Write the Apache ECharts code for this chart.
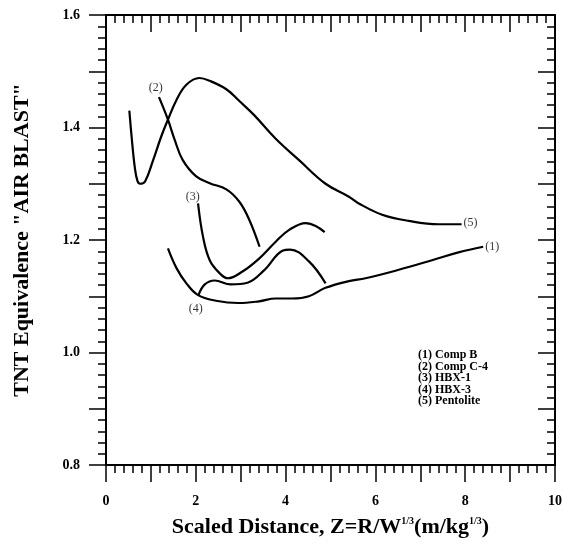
<!DOCTYPE html>
<html>
<head>
<meta charset="utf-8">
<script src="https://cdn.jsdelivr.net/npm/echarts@6/dist/echarts.min.js"></script>
<style>html,body{margin:0;padding:0;background:#fff;}#c{width:565px;height:544px;}</style>
</head>
<body>
<div id="c"></div>
<script>
var seriesNames = ['(1) Comp B', '(2) Comp C-4', '(3) HBX-1', '(4) HBX-3', '(5) Pentolite'];
var compB = [[1.38,1.185],[1.57,1.150],[1.79,1.123],[2.05,1.102],[2.45,1.092],[2.95,1.088],[3.41,1.091],[3.78,1.096],[4.15,1.096],[4.52,1.100],[4.89,1.115],[5.41,1.127],[5.78,1.132],[6.52,1.147],[7.26,1.164],[7.85,1.178],[8.40,1.188]];
var compC4 = [[1.18,1.454],[1.38,1.414],[1.53,1.378],[1.71,1.342],[2.01,1.313],[2.31,1.301],[2.68,1.290],[2.97,1.268],[3.19,1.236],[3.42,1.188]];
var hbx1 = [[2.05,1.265],[2.16,1.206],[2.31,1.164],[2.53,1.141],[2.71,1.132],[3.04,1.144],[3.41,1.167],[3.78,1.197],[4.08,1.218],[4.45,1.230],[4.67,1.225],[4.87,1.214]];
var hbx3 = [[2.06,1.102],[2.20,1.121],[2.42,1.128],[2.78,1.121],[3.15,1.124],[3.52,1.146],[3.93,1.181],[4.10,1.183],[4.52,1.162],[4.89,1.123]];
var pentolite = [[0.52,1.430],[0.57,1.384],[0.64,1.330],[0.70,1.305],[0.76,1.300],[0.87,1.304],[1.05,1.342],[1.23,1.384],[1.38,1.414],[1.57,1.449],[1.79,1.476],[2.08,1.488],[2.31,1.483],[2.68,1.468],[2.97,1.447],[3.30,1.422],[3.78,1.380],[4.30,1.342],[4.89,1.300],[5.41,1.277],[5.63,1.265],[6.15,1.245],[6.74,1.234],[7.41,1.228],[7.92,1.228]];
var curveLabels = ['(1)', '(2)', '(3)', '(4)', '(5)'];
var curveLabelPos = [[8.60,1.188],[1.11,1.470],[1.93,1.276],[2.00,1.077],[8.12,1.230]];
var xTickLabels = ['0','2','4','6','8','10'];
var yTickLabels = ['0.8','1.0','1.2','1.4','1.6'];

var SERIF = '"Liberation Serif", "DejaVu Serif", serif';
var chart = echarts.init(document.getElementById('c'));

function xFmt(v){ var s = String(Math.round(v)); return xTickLabels.indexOf(s) >= 0 && Math.abs(v-Math.round(v))<1e-6 ? s : ''; }
function yFmt(v){ var s = v.toFixed(1); return yTickLabels.indexOf(s) >= 0 ? s : ''; }

function axisCommon(extra){
  var base = {
    type: 'value',
    axisLine: {show: true, onZero: false, lineStyle: {color: '#000', width: 2}},
    splitLine: {show: false},
    minorSplitLine: {show: false}
  };
  for (var k in extra) base[k] = extra[k];
  return base;
}

var allData = [compB, compC4, hbx1, hbx3, pentolite];
var series = allData.map(function(d, i){
  return {
    name: seriesNames[i], type: 'line', data: d, smooth: 0.4, showSymbol: false, symbol: 'none',
    lineStyle: {color: '#000', width: 2.2}, silent: true, z: 3
  };
});
series.push({
  type: 'scatter', symbolSize: 0, silent: true,
  data: curveLabelPos.map(function(p, i){ return {value: p, name: curveLabels[i]}; }),
  label: {show: true, position: 'inside', formatter: function(p){ return p.name; },
    color: '#000', fontFamily: SERIF, fontSize: 12}
});

var option = {
  animation: false,
  backgroundColor: '#fff',
  grid: {left: 106, right: 8, top: 15, bottom: 79},
  xAxis: [
    axisCommon({
      position: 'bottom', min: 0, max: 10, interval: 1,
      axisTick: {show: true, inside: false, length: 17, lineStyle: {color: '#000', width: 1.5}},
      minorTick: {show: true, splitNumber: 5, length: 8, lineStyle: {color: '#000', width: 1.5}},
      axisLabel: {show: true, formatter: xFmt, margin: 29, color: '#000', fontFamily: SERIF, fontWeight: 'bold', fontSize: 14, showMinLabel: true, showMaxLabel: true},
      name: 'Scaled Distance, Z=R/W{sup|1/3}(m/kg{sup|1/3})',
      nameLocation: 'middle', nameGap: 51,
      nameTextStyle: {color: '#000', fontFamily: SERIF, fontWeight: 'bold', fontSize: 22,
        rich: {sup: {fontSize: 10, fontWeight: 'bold', fontFamily: SERIF, color: '#000', verticalAlign: 'top', padding: [0,0,9,0]}}}
    }),
    axisCommon({
      position: 'top', min: 0, max: 10, interval: 1,
      axisTick: {show: true, inside: true, length: 17, lineStyle: {color: '#000', width: 1.5}},
      minorTick: {show: true, splitNumber: 5, length: 8, lineStyle: {color: '#000', width: 1.5}},
      axisLabel: {show: false}
    })
  ],
  yAxis: [
    axisCommon({
      position: 'left', min: 0.8, max: 1.6, interval: 0.1,
      axisTick: {show: true, inside: false, length: 17, lineStyle: {color: '#000', width: 1.5}},
      minorTick: {show: true, splitNumber: 5, length: 8, lineStyle: {color: '#000', width: 1.5}},
      axisLabel: {show: true, formatter: yFmt, margin: 26, color: '#000', fontFamily: SERIF, fontWeight: 'bold', fontSize: 14, showMinLabel: true, showMaxLabel: true},
      name: 'TNT Equivalence "AIR BLAST"',
      nameLocation: 'middle', nameGap: 73,
      nameTextStyle: {color: '#000', fontFamily: SERIF, fontWeight: 'bold', fontSize: 22}
    }),
    axisCommon({
      position: 'right', min: 0.8, max: 1.6, interval: 0.1,
      axisTick: {show: true, inside: true, length: 17, lineStyle: {color: '#000', width: 1.5}},
      minorTick: {show: true, splitNumber: 5, length: 8, lineStyle: {color: '#000', width: 1.5}},
      axisLabel: {show: false}
    })
  ],
  graphic: [{
    type: 'text', left: 418, top: 349, silent: true,
    style: {text: seriesNames.join('\n'), fill: '#000', font: 'bold 12px ' + SERIF, lineHeight: 11.5}
  }],
  series: series
};
chart.setOption(option);
</script>
</body>
</html>
